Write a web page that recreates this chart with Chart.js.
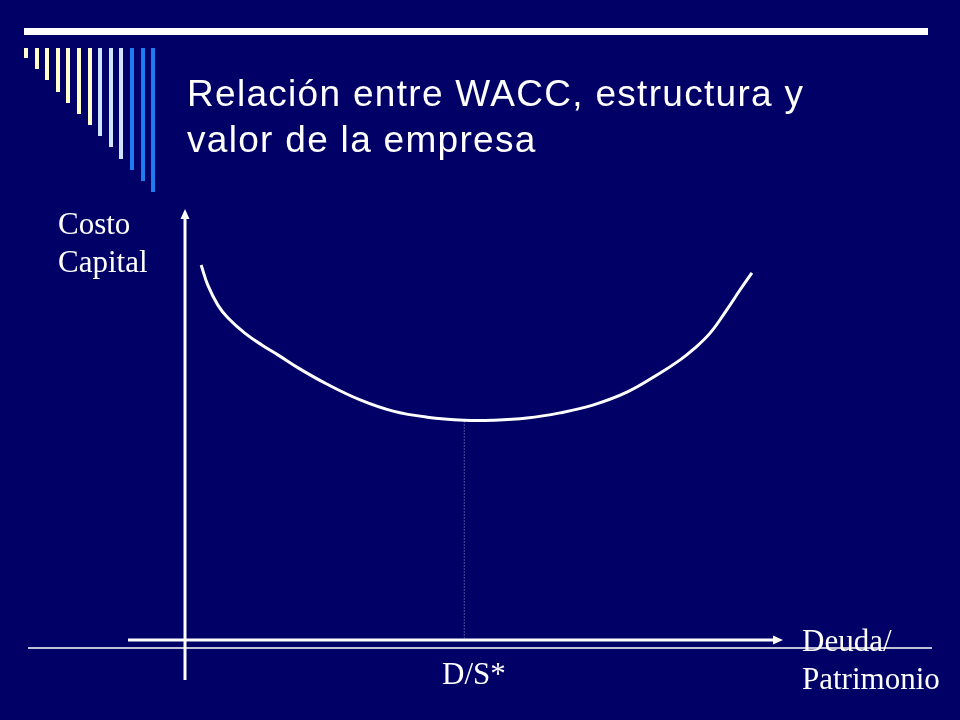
<!DOCTYPE html>
<html>
<head>
<meta charset="utf-8">
<script src="https://cdn.jsdelivr.net/npm/chart.js@4.4.1/dist/chart.umd.min.js"></script>
<style>
  body { margin: 0; background: #000066; }
  #slide { position: relative; width: 960px; height: 720px; overflow: hidden; background: #000066; }
  #slide canvas { position: absolute; left: 0; top: 0; }
  .title { position: absolute; left: 187px; top: 71px; color: #fff; font-family: "Liberation Sans", Arial, sans-serif; font-size: 37px; line-height: 46px; letter-spacing: 1.3px; white-space: nowrap; }
  .lbl { position: absolute; color: #fff; font-family: "Liberation Serif", "Times New Roman", serif; font-size: 31px; line-height: 38px; white-space: nowrap; }
</style>
</head>
<body>
<div id="slide">
  <canvas id="chart" width="960" height="720"></canvas>
  <div class="title">Relación entre WACC, estructura y<br>valor de la empresa</div>
  <div class="lbl" style="left:58px; top:205px;">Costo<br>Capital</div>
  <div class="lbl" style="left:802px; top:622px;">Deuda/<br>Patrimonio</div>
  <div class="lbl" style="left:442px; top:655px;">D/S*</div>
</div>
<script>
// D/S (deuda / patrimonio) en unidades arbitrarias
const debtRatio = [0.27, 0.38, 0.55, 0.72, 1.00, 1.29, 1.56, 1.92, 2.37, 2.93, 3.48, 4.05, 4.67, 5.15, 5.72, 6.27, 6.82, 7.39, 7.94, 8.28, 8.49, 8.78, 9.06, 9.28, 9.48];
// costo de capital (WACC)
const waccValues = [8.70, 8.24, 7.77, 7.47, 7.12, 6.84, 6.61, 6.29, 5.94, 5.57, 5.31, 5.17, 5.10, 5.10, 5.15, 5.27, 5.45, 5.75, 6.19, 6.50, 6.73, 7.12, 7.66, 8.12, 8.52];
// estructura optima D/S*
const optimumRatio = 4.67;
const optimumCost = 5.07;

const waccPoints = debtRatio.map((x, i) => ({ x: x, y: waccValues[i] }));

// slide decoration + axes with arrows
const slideDecor = {
  id: "slideDecor",
  beforeDatasetsDraw(chart) {
    const ctx = chart.ctx;
    const area = chart.chartArea;
    ctx.save();

    // top white rule
    ctx.fillStyle = "#ffffff";
    ctx.fillRect(24, 28, 904, 7);

    // vertical bars
    const barColors = ["#ffffcc", "#ffffcc", "#ffffcc", "#ffffcc", "#ffffcc", "#ffffcc", "#ffffcc",
      "#cce6ff", "#cce6ff", "#cce6ff", "#1e7cf0", "#1e7cf0", "#1e7cf0"];
    barColors.forEach((c, i) => {
      ctx.fillStyle = c;
      ctx.fillRect(Math.round(24 + i * 10.6), 48, 4, Math.round(10 + i * 11.17));
    });

    ctx.fillStyle = "#ffffff";
    ctx.strokeStyle = "#ffffff";

    // thin slide line
    ctx.lineWidth = 1.5;
    ctx.beginPath();
    ctx.moveTo(28, area.bottom + 8);
    ctx.lineTo(932, area.bottom + 8);
    ctx.stroke();

    // x axis arrow
    ctx.lineWidth = 3;
    ctx.beginPath();
    ctx.moveTo(area.left - 57, area.bottom);
    ctx.lineTo(area.right - 8, area.bottom);
    ctx.stroke();
    ctx.beginPath();
    ctx.moveTo(area.right, area.bottom);
    ctx.lineTo(area.right - 10, area.bottom - 4.5);
    ctx.lineTo(area.right - 10, area.bottom + 4.5);
    ctx.closePath();
    ctx.fill();

    // y axis arrow
    ctx.beginPath();
    ctx.moveTo(area.left, area.bottom + 40);
    ctx.lineTo(area.left, area.top + 8);
    ctx.stroke();
    ctx.beginPath();
    ctx.moveTo(area.left, area.top);
    ctx.lineTo(area.left - 4.5, area.top + 10);
    ctx.lineTo(area.left + 4.5, area.top + 10);
    ctx.closePath();
    ctx.fill();

    ctx.restore();
  },
};

new Chart(document.getElementById("chart"), {
  type: "scatter",
  data: {
    datasets: [
      {
        label: "WACC",
        data: waccPoints,
        showLine: true,
        borderColor: "#ffffff",
        borderWidth: 3,
        pointRadius: 0,
        tension: 0.4,
      },
      {
        label: "D/S*",
        data: [
          { x: optimumRatio, y: optimumCost },
          { x: optimumRatio, y: 0 },
        ],
        showLine: true,
        borderColor: "#9a9ad0",
        borderWidth: 1,
        borderDash: [1, 2],
        pointRadius: 0,
      },
    ],
  },
  options: {
    responsive: false,
    animation: false,
    events: [],
    layout: { padding: { left: 185, right: 177, top: 209, bottom: 80 } },
    plugins: {
      legend: { display: false },
      tooltip: { enabled: false },
    },
    scales: {
      x: { type: "linear", min: 0, max: 10, display: false },
      y: { type: "linear", min: 0, max: 10, display: false },
    },
  },
  plugins: [slideDecor],
});
</script>
</body>
</html>
